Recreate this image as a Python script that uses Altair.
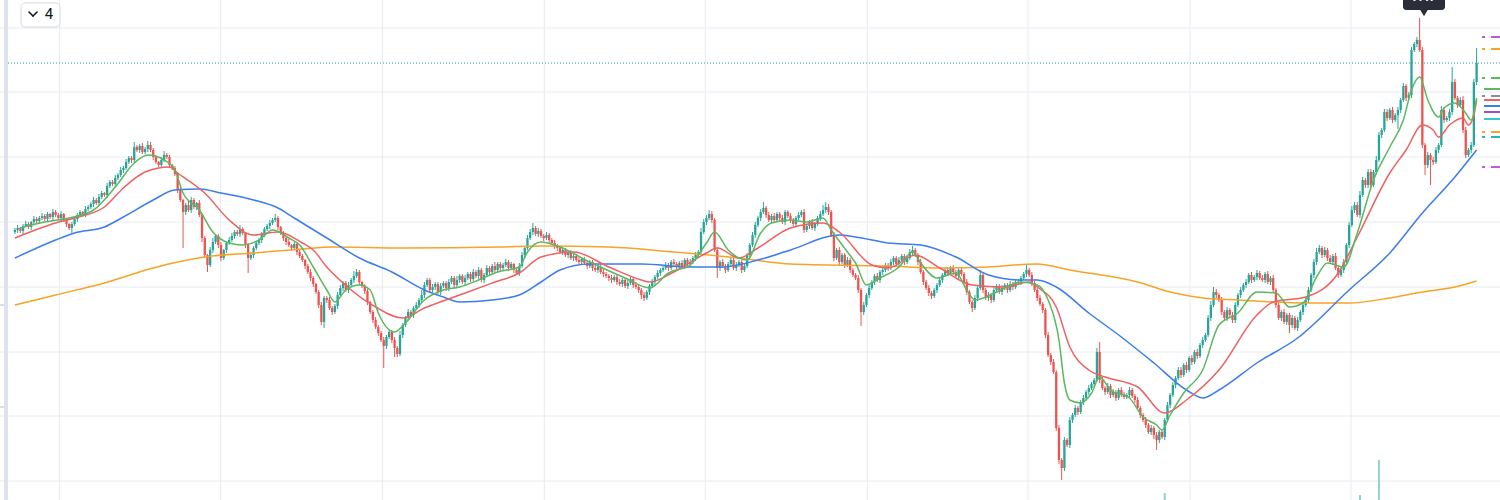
import altair as alt
import pandas as pd

# ---------------- data (price units; candles indexed 0..539) ----------------
first_open = 268
close = [
    270, 272, 269, 274, 276, 273, 278, 281, 279, 282,
    284, 281, 286, 283, 288, 285, 282, 286, 280, 276,
    272, 276, 281, 285, 288, 286, 291, 293, 296, 300,
    297, 303, 307, 305, 314, 318, 316, 322, 325, 330,
    332, 338, 342, 340, 353, 350, 354, 348, 351, 355,
    350, 343, 338, 335, 340, 345, 343, 335, 332, 326,
    310, 300, 288, 295, 290, 300, 293, 297, 285, 262,
    245, 235, 250, 258, 264, 255, 242, 250, 257, 260,
    264, 268, 266, 271, 267, 255, 242, 245, 252, 257,
    260, 265, 271, 274, 277, 280, 282, 273, 267, 262,
    258, 255, 252, 256, 248, 244, 240, 234, 228, 222,
    216, 208, 195, 178, 202, 200, 192, 188, 194, 205,
    212, 217, 210, 215, 220, 224, 228, 218, 214, 209,
    198, 188, 180, 173, 167, 160, 154, 163, 168, 160,
    152, 146, 165, 175, 182, 188, 185, 192, 195, 200,
    205, 215, 220, 210, 213, 216, 208, 214, 217, 212,
    218, 222, 215, 220, 224, 218, 222, 226, 221, 228,
    224, 230, 220, 225, 232, 228, 234, 230, 236, 232,
    235, 238, 232, 236, 230, 227, 234, 245, 252, 262,
    268, 272, 266, 269, 264, 262, 265, 260, 257, 254,
    252, 248, 250, 245, 247, 242, 244, 240, 238, 241,
    237, 234, 238, 232, 230, 233, 228, 226, 224, 222,
    220, 223, 218, 216, 220, 214, 217, 221, 215, 213,
    210, 205, 202, 208, 214, 218, 223, 227, 230, 232,
    235, 232, 238, 236, 233, 237, 234, 240, 236, 238,
    242, 245, 248, 268, 278, 282, 286, 280, 250, 232,
    238, 234, 230, 236, 240, 232, 235, 238, 230, 234,
    245, 255, 265, 275, 282, 288, 292, 285, 280, 284,
    280, 286, 282, 278, 288, 284, 280, 276, 282, 285,
    288, 270, 274, 278, 272, 276, 282, 286, 290, 293,
    288, 265, 242, 250, 238, 245, 235, 240, 230, 225,
    222, 210, 188, 195, 205, 212, 218, 224, 220, 228,
    230, 235, 232, 238, 242, 236, 240, 244, 238, 242,
    248, 250, 245, 238, 228, 218, 212, 207, 204, 210,
    215, 220, 225, 230, 227, 232, 228, 224, 230, 226,
    218, 208, 198, 192, 202, 212, 225, 210, 202, 205,
    200, 210, 214, 208, 212, 215, 210, 216, 213, 218,
    218, 222, 226, 230, 225, 217, 210, 202, 196, 190,
    165, 145, 138, 128, 72, 40, 32, 60, 55, 80,
    85, 92, 88, 98, 102, 108, 112, 116, 120, 148,
    120, 112, 108, 114, 105, 108, 102, 110, 106, 103,
    105, 110, 104, 100, 92, 85, 80, 75, 68, 72,
    65, 60, 68, 63, 80, 95, 105, 115, 122, 130,
    125, 135, 130, 142, 138, 148, 144, 155, 160, 165,
    182, 195, 208, 205, 200, 188, 182, 190, 185, 180,
    195, 205, 210, 215, 218, 225, 220, 223, 227, 222,
    220, 226, 218, 222, 210, 195, 182, 188, 178, 185,
    175, 182, 172, 180, 188, 195, 200, 210, 225, 238,
    248, 252, 245, 250, 242, 238, 244, 232, 225, 230,
    238, 255, 275, 290, 295, 285, 305, 320, 315, 328,
    315, 328, 340, 365, 370, 388, 382, 390, 380, 385,
    390, 400, 414, 402, 405, 450, 456, 460, 450, 355,
    335, 345, 340, 338, 350, 355, 390, 380, 382, 388,
    418, 402, 395, 400, 370, 345, 350, 355, 418, 437,
]
wick_up = [
    2, 3, 1, 2, 3, 2, 1, 3, 2, 2,
    3, 2, 2, 1, 3, 2, 2, 3, 1, 2,
    1, 2, 3, 2, 2, 1, 3, 2, 2, 3,
    2, 3, 2, 1, 3, 2, 2, 3, 2, 3,
    2, 3, 2, 2, 5, 2, 2, 3, 2, 4,
    3, 2, 2, 1, 3, 4, 2, 2, 1, 2,
    2, 3, 1, 2, 4, 3, 2, 1, 3, 2,
    2, 1, 3, 4, 2, 2, 3, 1, 2, 3,
    3, 2, 2, 4, 2, 1, 2, 3, 2, 2,
    2, 3, 2, 2, 3, 2, 4, 2, 1, 2,
    2, 3, 1, 2, 2, 3, 2, 1, 2, 3,
    2, 1, 2, 3, 2, 2, 3, 2, 2, 3,
    3, 2, 2, 3, 2, 5, 3, 2, 1, 2,
    2, 1, 2, 3, 2, 2, 3, 2, 3, 2,
    3, 2, 4, 2, 2, 3, 2, 2, 3, 2,
    5, 3, 2, 2, 3, 2, 2, 3, 2, 2,
    3, 2, 2, 4, 2, 2, 3, 2, 2, 3,
    2, 3, 2, 2, 3, 2, 2, 4, 2, 2,
    2, 3, 2, 2, 1, 2, 3, 3, 2, 3,
    3, 5, 2, 3, 2, 2, 3, 2, 2, 3,
    2, 2, 3, 2, 2, 3, 2, 2, 3, 2,
    2, 3, 2, 2, 3, 2, 2, 3, 2, 2,
    3, 2, 2, 3, 2, 2, 3, 2, 2, 3,
    2, 2, 3, 2, 2, 3, 2, 3, 2, 2,
    3, 2, 2, 3, 2, 2, 3, 2, 2, 3,
    2, 3, 2, 4, 3, 3, 4, 3, 2, 3,
    2, 3, 2, 2, 3, 2, 3, 2, 2, 3,
    2, 2, 3, 3, 2, 3, 6, 2, 3, 2,
    3, 2, 2, 3, 2, 2, 3, 2, 2, 3,
    2, 3, 2, 2, 3, 2, 2, 3, 5, 5,
    3, 2, 3, 2, 3, 2, 2, 3, 2, 2,
    2, 3, 2, 3, 2, 3, 2, 2, 3, 2,
    3, 2, 2, 3, 2, 2, 3, 2, 2, 3,
    3, 4, 2, 2, 3, 2, 2, 3, 2, 2,
    2, 3, 2, 2, 3, 2, 3, 2, 2, 3,
    2, 3, 2, 2, 3, 2, 5, 2, 2, 3,
    2, 3, 2, 2, 3, 2, 2, 3, 2, 2,
    3, 2, 2, 5, 2, 3, 2, 2, 3, 2,
    2, 3, 2, 3, 2, 3, 2, 3, 2, 3,
    2, 3, 2, 2, 3, 2, 3, 2, 2, 4,
    10, 3, 2, 3, 2, 3, 2, 2, 3, 2,
    2, 3, 2, 2, 3, 2, 2, 3, 2, 3,
    2, 3, 2, 3, 2, 3, 2, 3, 2, 3,
    3, 2, 3, 2, 3, 2, 3, 2, 3, 2,
    3, 4, 5, 3, 2, 3, 2, 3, 2, 3,
    3, 2, 3, 2, 3, 2, 3, 2, 3, 2,
    3, 2, 3, 2, 3, 2, 3, 2, 3, 2,
    2, 3, 2, 3, 2, 3, 2, 3, 2, 3,
    4, 3, 2, 3, 2, 3, 2, 3, 2, 3,
    3, 2, 3, 4, 3, 3, 4, 3, 2, 3,
    3, 2, 4, 3, 2, 3, 3, 2, 3, 2,
    3, 2, 3, 2, 3, 3, 2, 3, 22, 3,
    2, 3, 2, 3, 3, 2, 4, 3, 2, 3,
    15, 3, 2, 3, 4, 3, 2, 3, 3, 15,
]
wick_dn = [
    2, 3, 2, 3, 1, 2, 3, 2, 2, 3,
    2, 2, 3, 2, 3, 2, 2, 3, 2, 3,
    2, 5, 2, 3, 2, 2, 3, 2, 2, 3,
    2, 3, 2, 2, 3, 2, 2, 3, 2, 2,
    3, 2, 2, 3, 2, 2, 3, 2, 2, 3,
    2, 3, 2, 2, 3, 2, 2, 3, 2, 2,
    3, 2, 36, 3, 2, 3, 2, 3, 2, 4,
    3, 7, 2, 3, 2, 3, 3, 2, 3, 2,
    2, 3, 2, 3, 2, 3, 15, 2, 3, 2,
    2, 3, 2, 2, 3, 2, 2, 3, 2, 3,
    3, 2, 3, 2, 3, 2, 2, 3, 2, 3,
    3, 2, 3, 3, 6, 3, 2, 3, 2, 3,
    2, 3, 2, 3, 2, 3, 2, 3, 2, 3,
    3, 2, 3, 2, 3, 2, 22, 3, 2, 3,
    9, 3, 2, 3, 2, 3, 2, 3, 2, 3,
    2, 3, 2, 3, 2, 3, 2, 3, 2, 3,
    3, 2, 3, 2, 3, 2, 3, 2, 3, 2,
    2, 3, 2, 3, 2, 3, 2, 3, 2, 3,
    3, 2, 3, 2, 3, 2, 3, 2, 3, 2,
    2, 3, 2, 3, 2, 3, 2, 3, 2, 3,
    3, 2, 3, 2, 3, 2, 3, 2, 3, 2,
    2, 3, 2, 3, 2, 3, 2, 3, 2, 3,
    3, 2, 3, 2, 3, 2, 3, 2, 3, 2,
    3, 4, 3, 2, 3, 2, 3, 2, 3, 2,
    2, 3, 2, 3, 2, 3, 2, 3, 2, 3,
    2, 3, 2, 3, 2, 3, 2, 3, 2, 10,
    3, 2, 3, 2, 3, 2, 3, 2, 3, 2,
    2, 3, 2, 3, 2, 3, 2, 3, 2, 3,
    3, 2, 3, 2, 3, 2, 3, 2, 3, 2,
    2, 3, 2, 3, 2, 3, 2, 3, 2, 3,
    3, 2, 3, 2, 3, 2, 3, 2, 3, 2,
    2, 3, 14, 3, 2, 3, 2, 3, 2, 3,
    3, 2, 3, 2, 3, 2, 3, 2, 3, 2,
    2, 3, 2, 3, 2, 3, 2, 3, 3, 2,
    3, 2, 3, 2, 3, 2, 3, 2, 3, 2,
    2, 3, 2, 4, 2, 3, 2, 3, 2, 3,
    3, 2, 3, 2, 3, 2, 3, 2, 3, 2,
    2, 3, 2, 3, 2, 3, 2, 3, 2, 3,
    3, 2, 3, 2, 3, 4, 12, 3, 2, 3,
    3, 2, 3, 2, 3, 2, 3, 2, 3, 2,
    3, 2, 3, 2, 3, 2, 3, 2, 3, 2,
    2, 3, 2, 3, 2, 3, 2, 3, 2, 3,
    4, 10, 3, 2, 3, 2, 3, 2, 3, 2,
    3, 2, 3, 2, 3, 2, 3, 2, 3, 2,
    2, 3, 2, 3, 2, 3, 2, 3, 2, 3,
    3, 2, 3, 2, 3, 2, 3, 2, 3, 2,
    2, 3, 2, 3, 2, 3, 2, 3, 2, 3,
    8, 3, 2, 3, 2, 3, 2, 3, 2, 3,
    3, 2, 3, 2, 3, 2, 3, 2, 3, 2,
    3, 2, 3, 2, 3, 2, 3, 2, 3, 3,
    3, 2, 3, 2, 3, 2, 3, 2, 3, 2,
    14, 3, 2, 3, 2, 3, 2, 3, 2, 3,
    10, 3, 25, 3, 2, 3, 2, 3, 2, 3,
    3, 2, 3, 2, 3, 3, 2, 3, 2, 3,
]

# moving averages (sampled at candle indices)
ma_fast_idx = [2, 11, 20, 29, 37, 44, 49, 55, 59, 62, 68, 73, 79, 84, 90, 95, 101, 105, 110, 115,
               118, 122, 127, 131, 134, 140, 144, 151, 158, 164, 171, 178, 186, 189, 194, 201, 212, 225, 234, 241,
               249, 255, 258, 263, 270, 275, 279, 286, 292, 298, 301, 307, 310, 314, 319, 326, 331, 334, 340, 347,
               351, 354, 362, 371, 377, 381, 385, 387, 389, 393, 397, 400, 404, 411, 416, 421, 423, 426, 431, 438,
               444, 451, 458, 465, 470, 475, 480, 484, 490, 495, 501, 507, 512, 515, 518, 521, 525, 527, 531, 535,
               537, 539]
ma_fast = [272, 278, 282, 290, 313, 337, 345, 340, 330, 307, 290, 268, 257, 255, 260, 270, 262, 255, 233, 210,
           198, 210, 215, 210, 187, 168, 177, 200, 210, 213, 220, 228, 233, 248, 258, 253, 238, 222, 212, 227,
           235, 257, 268, 250, 240, 267, 277, 280, 278, 282, 270, 248, 237, 215, 222, 233, 248, 237, 222, 227,
           210, 200, 208, 218, 215, 200, 160, 117, 100, 97, 107, 123, 110, 102, 83, 75, 70, 85, 107, 130,
           175, 187, 208, 207, 193, 197, 223, 237, 233, 267, 320, 353, 380, 410, 423, 400, 383, 392, 397, 387,
           380, 402]
ma_mid_idx = [0, 15, 22, 33, 40, 48, 57, 60, 70, 79, 88, 97, 106, 110, 115, 121, 133, 143, 151, 164,
              176, 186, 194, 206, 219, 231, 234, 243, 255, 259, 267, 274, 286, 298, 304, 316, 322, 332, 341, 353,
              365, 374, 377, 384, 389, 396, 402, 414, 424, 432, 444, 458, 464, 476, 488, 495, 507, 513, 519, 523,
              525, 529, 534, 536, 538, 539]
ma_mid = [262, 277, 282, 293, 312, 328, 333, 327, 307, 280, 265, 268, 257, 250, 233, 217, 193, 182, 192, 205,
          217, 227, 243, 248, 233, 220, 218, 228, 247, 252, 242, 252, 272, 277, 268, 235, 232, 245, 232, 215,
          213, 218, 213, 193, 153, 130, 123, 113, 87, 100, 130, 185, 198, 203, 227, 263, 327, 350, 375, 370,
          363, 375, 382, 375, 385, 400]
ma_slow_idx = [0, 15, 22, 33, 40, 51, 59, 68, 76, 88, 97, 103, 106, 115, 127, 139, 151, 158, 164, 176,
               186, 194, 201, 212, 231, 249, 261, 274, 286, 304, 310, 322, 334, 347, 359, 371, 377, 384, 396, 408,
               420, 432, 438, 444, 458, 473, 492, 507, 519, 531, 539]
ma_slow = [242, 260, 267, 273, 283, 300, 310, 311, 307, 300, 292, 282, 277, 262, 242, 228, 210, 203, 198, 200,
           205, 218, 230, 236, 236, 233, 233, 240, 250, 265, 263, 257, 255, 243, 225, 220, 220, 213, 187, 163,
           137, 110, 102, 110, 137, 162, 210, 247, 287, 323, 350]
ma_long_idx = [0, 15, 33, 51, 60, 70, 88, 106, 117, 143, 179, 194, 219, 243, 267, 286, 322, 341, 359, 377,
               389, 414, 426, 438, 451, 476, 492, 507, 519, 531, 539]
ma_long = [195, 205, 217, 232, 238, 243, 247, 251, 253, 252, 253, 254, 253, 248, 242, 236, 234, 232, 233, 236,
           230, 218, 208, 202, 200, 197, 197, 202, 208, 213, 219]

# volume spikes that reach into the visible area
vol_idx = [424, 496, 503]
vol = [7, 5, 40]

last_price = 437
ath_label = "7.47"

# horizontal grid (price) and vertical grid (candle index of period starts)
grid_price = [472, 408, 343, 278, 213, 148, 84, 19]
grid_idx = [16.5, 75.8, 135.5, 195.2, 254.6, 314.3, 373.6, 433.3, 492.7]

# price-scale markers at the right edge
marker_solid_price = [411, 400, 394, 388, 381]
marker_solid_color = ["#5cb860", "#f06060", "#3b7cf0", "#9c4fd0", "#3cc3d2"]
marker_dash_price = [463, 451, 422, 404, 368, 363, 333]
marker_dash_color = ["#b25cd6", "#f7a325", "#5cb860", "#8a8e99", "#f7a325", "#26b3c2", "#c25bdc"]

UP = "#26a69a"
DOWN = "#ef5350"

# ---------------- build tables ----------------
opens = [first_open] + close[:-1]
rows = []
for i, c in enumerate(close):
    o = opens[i]
    rows.append({"i": i, "open": o, "close": c,
                 "high": max(o, c) + wick_up[i], "low": min(o, c) - wick_dn[i],
                 "dir": "up" if c >= o else "down"})
candles = pd.DataFrame(rows)

xs = alt.Scale(domain=[-3.663, 545.79], nice=False, zero=False)
ys = alt.Scale(domain=[0, 500], nice=False, zero=False)
X = alt.X("i:Q", scale=xs, axis=None)
col = alt.Color("dir:N", scale=alt.Scale(domain=["up", "down"], range=[UP, DOWN]), legend=None)
one = pd.DataFrame({"a": [0]})

grid_h = alt.Chart(pd.DataFrame({"p": grid_price})).mark_rule(color="#e6ebf1", strokeWidth=1).encode(
    y=alt.Y("p:Q", scale=ys, axis=None))
grid_v = alt.Chart(pd.DataFrame({"i": grid_idx})).mark_rule(color="#e6ebf1", strokeWidth=1).encode(x=X)

volume = alt.Chart(pd.DataFrame({"i": vol_idx, "v": vol})).mark_bar(size=2, color="#8fd3cc").encode(
    x=X, y=alt.Y("v:Q", scale=ys, axis=None))

wicks = alt.Chart(candles).mark_rule(strokeWidth=1).encode(
    x=X, y=alt.Y("low:Q", scale=ys, axis=None), y2="high:Q", color=col)
bodies = alt.Chart(candles).mark_bar(size=2.3).encode(
    x=X, y=alt.Y("open:Q", scale=ys, axis=None), y2="close:Q", color=col)


def ma_layer(idx, vals, color):
    return alt.Chart(pd.DataFrame({"i": idx, "p": vals})).mark_line(
        color=color, strokeWidth=1.5, interpolate="monotone").encode(
        x=X, y=alt.Y("p:Q", scale=ys, axis=None))


ma_l = ma_layer(ma_long_idx, ma_long, "#f7a325")
ma_s = ma_layer(ma_slow_idx, ma_slow, "#3b7cf0")
ma_m = ma_layer(ma_mid_idx, ma_mid, "#f06060")
ma_f = ma_layer(ma_fast_idx, ma_fast, "#5cb860")

last_line = alt.Chart(pd.DataFrame({"p": [last_price]})).mark_rule(
    color="#26a6a6", strokeDash=[1, 2], strokeWidth=1).encode(
    y=alt.Y("p:Q", scale=ys, axis=None), x=alt.value(8), x2=alt.value(1500))

solid_m = alt.Chart(pd.DataFrame({"p": marker_solid_price, "c": marker_solid_color})).mark_rule(
    strokeWidth=2).encode(y=alt.Y("p:Q", scale=ys, axis=None), x=alt.value(1484), x2=alt.value(1500),
                          color=alt.Color("c:N", scale=None))
dash_m = alt.Chart(pd.DataFrame({"p": marker_dash_price, "c": marker_dash_color})).mark_rule(
    strokeWidth=2, strokeDash=[3, 6, 9, 3]).encode(
    y=alt.Y("p:Q", scale=ys, axis=None), x=alt.value(1482), x2=alt.value(1500),
    color=alt.Color("c:N", scale=None))

# decorations
left_bar = alt.Chart(one).mark_rect(color="#dde1f0").encode(
    x=alt.value(4), x2=alt.value(8), y=alt.value(0), y2=alt.value(500))
left_ticks = alt.Chart(pd.DataFrame({"yy": [305, 407]})).mark_rule(color="#b8bcc8").encode(
    x=alt.value(0), x2=alt.value(4), y=alt.Y("yy:Q", scale=None))
button = alt.Chart(one).mark_rect(fill="white", stroke="#d6d9e0", strokeWidth=1, cornerRadius=4).encode(
    x=alt.value(21), x2=alt.value(60), y=alt.value(3), y2=alt.value(27))
chev1 = alt.Chart(one).mark_rule(color="#131722", strokeWidth=1.6, strokeCap="round").encode(
    x=alt.value(29), y=alt.value(12), x2=alt.value(33), y2=alt.value(16))
chev2 = alt.Chart(one).mark_rule(color="#131722", strokeWidth=1.6, strokeCap="round").encode(
    x=alt.value(33), y=alt.value(16), x2=alt.value(37), y2=alt.value(12))
btn_text = alt.Chart(one).mark_text(text="4", font="Roboto", fontSize=15, color="#131722",
                                    align="center", baseline="middle").encode(x=alt.value(49), y=alt.value(14))
tip_box = alt.Chart(one).mark_rect(color="#2a2e39", cornerRadius=3).encode(
    x=alt.value(1403), x2=alt.value(1445), y=alt.value(-6), y2=alt.value(10))
tip_arrow = alt.Chart(one).mark_point(shape="triangle-down", filled=True, size=60, color="#2a2e39",
                                      opacity=1).encode(x=alt.value(1424), y=alt.value(13))
tip_text = alt.Chart(one).mark_text(text=ath_label, font="Roboto", fontSize=12, fontWeight="bold",
                                    color="white", align="center", baseline="bottom").encode(
    x=alt.value(1424), y=alt.value(4))

chart = alt.layer(
    grid_h, grid_v, volume, wicks, bodies, ma_l, ma_s, ma_m, ma_f, last_line,
    solid_m, dash_m, left_bar, left_ticks, button, chev1, chev2, btn_text, tip_box, tip_arrow, tip_text
).properties(
    width=1500, height=500, padding=0, autosize=alt.AutoSizeParams(type="none"), background="white"
).configure_view(stroke=None)

chart.save("out.html", embed_options={"renderer": "svg", "actions": False})
